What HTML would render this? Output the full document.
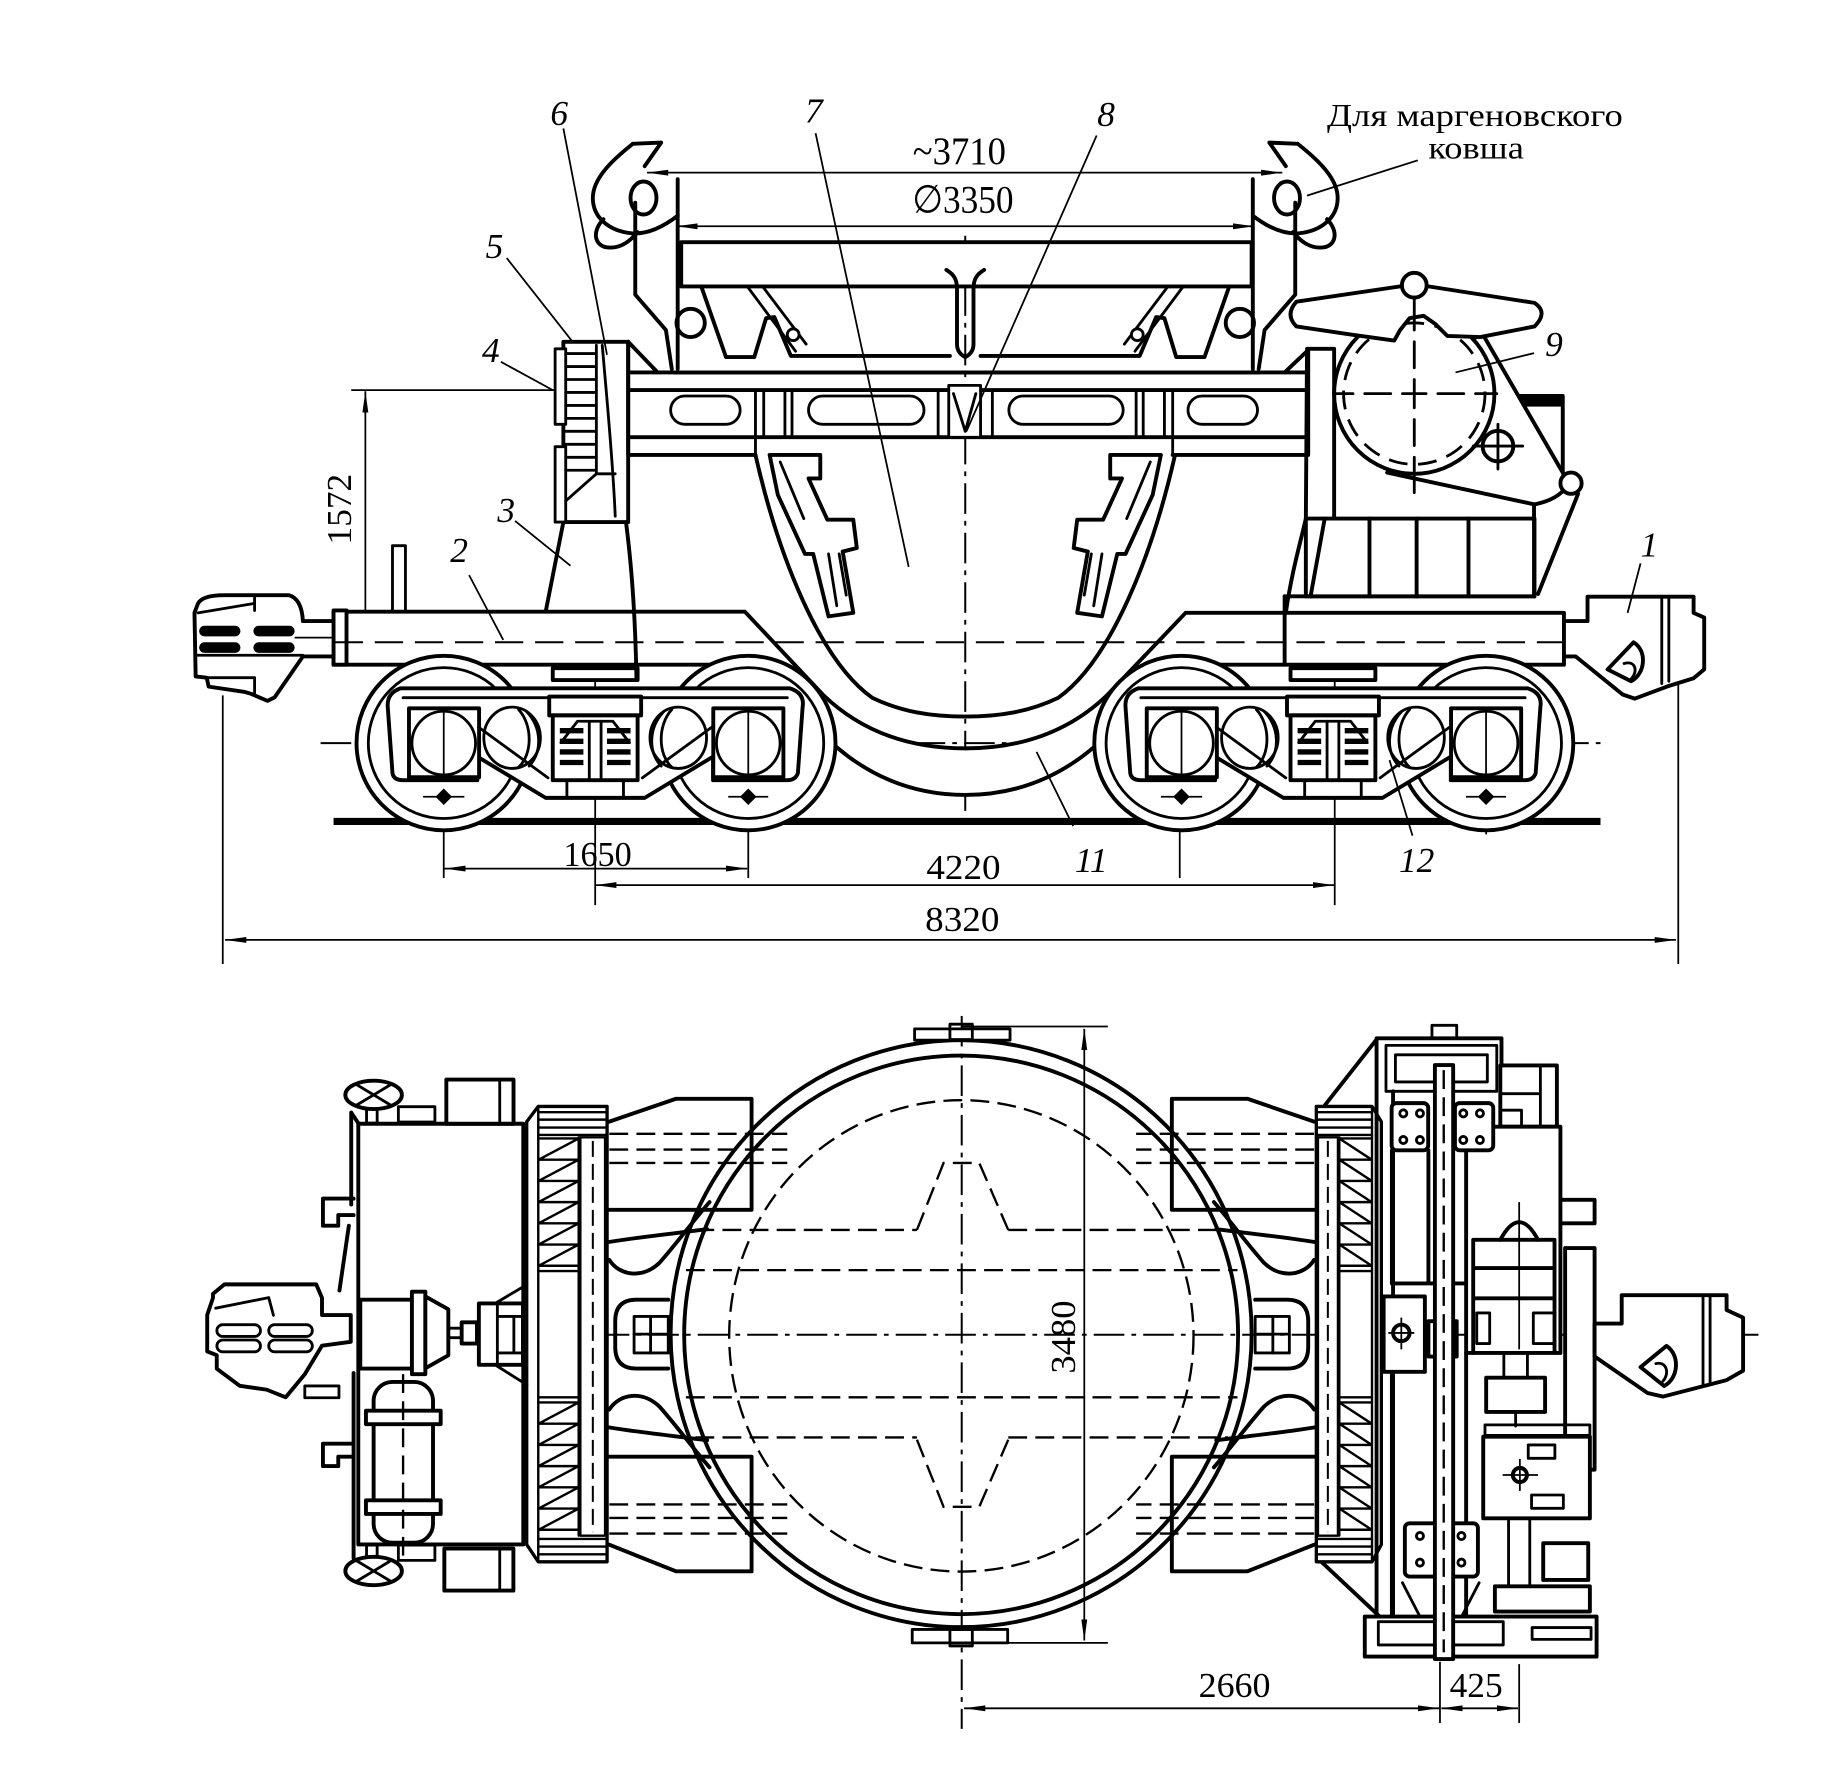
<!DOCTYPE html>
<html><head><meta charset="utf-8"><style>
html,body{margin:0;padding:0;background:#fff}
svg{display:block}
.k{fill:none;stroke:#000;stroke-width:3.3;stroke-linejoin:round;stroke-linecap:round}
.w{fill:#fff;stroke:#000;stroke-width:3.3;stroke-linejoin:round}
.wm{fill:#fff;stroke:#000;stroke-width:2.4;stroke-linejoin:round}
.m{fill:none;stroke:#000;stroke-width:2.4;stroke-linejoin:round;stroke-linecap:round}
.n{fill:none;stroke:#000;stroke-width:1.5}
.d{fill:none;stroke:#000;stroke-width:2;stroke-dasharray:16 7}
.dl{fill:none;stroke:#000;stroke-width:1.7;stroke-dasharray:26 6 4 6}
.ar{fill:none;stroke:#000;stroke-width:1.5;marker-start:url(#a);marker-end:url(#a)}
.ns *{vector-effect:non-scaling-stroke}
text{font-family:"Liberation Serif","DejaVu Serif",serif;fill:#000}
.it{font-style:italic}
</style></head><body>
<svg width="1848" height="1769" viewBox="0 0 1568 1501" xmlns="http://www.w3.org/2000/svg">
<defs>
<marker id="a" viewBox="0 0 18 6" refX="18" refY="3" markerWidth="18" markerHeight="6" orient="auto-start-reverse" markerUnits="userSpaceOnUse"><path d="M0,0.5 L18,3 L0,5.5 Z" fill="#000"/></marker>
</defs>
<rect width="1568" height="1501" fill="#fff"/>

<!-- ================= SIDE VIEW ================= -->
<line class="dl" x1="819" y1="200" x2="819" y2="702"/>
<line class="dl" x1="272" y1="630.5" x2="1362" y2="630.5"/>

<line class="ar" x1="191" y1="797.5" x2="1422" y2="797.5"/>
<line class="n" x1="189" y1="590" x2="189" y2="818"/>
<line class="n" x1="1424" y1="578" x2="1424" y2="818"/>
<line class="ar" x1="377" y1="737" x2="634" y2="737"/>
<line class="ar" x1="505" y1="751" x2="1132" y2="751"/>
<line class="n" x1="376.5" y1="560" x2="376.5" y2="745"/>
<line class="n" x1="634.9" y1="560" x2="634.9" y2="745"/>
<line class="n" x1="1001" y1="560" x2="1001" y2="745"/>
<line class="n" x1="1261" y1="560" x2="1261" y2="708"/>
<line class="n" x1="505" y1="530" x2="505" y2="768"/>
<line class="n" x1="1132.5" y1="528" x2="1132.5" y2="768"/>
<line class="ar" x1="310" y1="332" x2="310" y2="544"/>
<line class="n" x1="298" y1="331" x2="480" y2="331"/>
<line class="ar" x1="549" y1="146.5" x2="1088" y2="146.5"/>
<line class="ar" x1="574" y1="192" x2="1064" y2="192"/>

<line x1="283" y1="697" x2="1358" y2="697" stroke="#000" stroke-width="6"/>

<path class="w" d="M283,519 H632 L698.5,589.7 C730,620 770,635 819,635 C868,635 908,620 939.5,589.7 L1006,520 H1327 V564 H986 C948,625 898,674.5 819,674.5 C740,674.5 690,625 652,564 H283 Z"/>
<rect class="w" x="283" y="518" width="11" height="46"/>
<line class="dl" x1="284" y1="545" x2="1340" y2="545" style="stroke-dasharray:24 10"/>
<line class="k" x1="1090" y1="506" x2="1090" y2="564"/>
<line class="k" x1="1090" y1="506" x2="1302" y2="506"/>
<rect class="m" x="333" y="463" width="11" height="56"/>

<path class="w" d="M168,512 Q172,505 190,505 L245,505 Q256,508 257,527 L283,527 L283,557 L257,557 L233,591.7 L227,594.7 L213,588.7 L207,587 L177,582.6 L175.4,575 L166,574 L165,520 Z"/>
<path class="m" d="M168,520 L216,512 M216,505 V518 M166,556 H257 M176,575 H216 V590"/>
<rect x="169" y="531" width="35" height="9" rx="4.5"/>
<rect x="215" y="531" width="35" height="9" rx="4.5"/>
<rect x="169" y="545" width="35" height="9" rx="4.5"/>
<rect x="215" y="545" width="35" height="9" rx="4.5"/>
<line class="n" x1="250" y1="541" x2="283" y2="541"/>

<path class="w" d="M1327,527 H1347 V506.3 H1437 V520 L1446,524 V568 L1437,575.5 L1414.8,582.4 L1387,592.8 L1376.8,589.3 L1337,557 H1327 Z"/>
<path class="m" d="M1410,506 V580 M1416,506 V578"/>
<path class="k" d="M1364,568 L1386,545 C1398,552 1396,572 1384,578 Z"/>
<path class="m" d="M1378,563 C1388,560 1390,570 1384,576"/>

<g id="bogie">
<circle class="w" cx="376.5" cy="630.5" r="74"/>
<circle class="m" cx="376.5" cy="630.5" r="64"/>
<circle class="w" cx="634.9" cy="630.5" r="74"/>
<circle class="m" cx="634.9" cy="630.5" r="64"/>
<path class="w" d="M340,584 H670 Q683,588 681,600 L677,656 Q675,662 668,662 H605 V642 L547,677 H463 L405,642 V662 H342 Q334,662 333,656 L329,600 Q328,588 340,584 Z"/>
<path class="m" d="M342,592 H668"/>
<rect class="w" x="347" y="601" width="59.5" height="58.5"/>
<circle class="m" cx="376.5" cy="630.5" r="27"/>
<rect class="w" x="605.2" y="601" width="59.5" height="58.5"/>
<circle class="m" cx="634.9" cy="630.5" r="27"/>
<ellipse class="wm" cx="434.5" cy="626" rx="24" ry="26"/>
<path class="m" d="M440,602 C452,615 452,640 440,651 M447,604 C460,618 460,638 449,650"/>
<ellipse class="wm" cx="575.5" cy="626" rx="24" ry="26"/>
<path class="m" d="M570,602 C558,615 558,640 570,651 M563,604 C550,618 550,638 561,650"/>
<path class="m" d="M406,617 L465,660 M604,617 L545,660"/>
<rect class="w" x="469" y="567" width="72" height="10"/>
<rect class="w" x="466" y="591" width="78" height="16"/>
<rect class="w" x="469" y="607" width="72" height="55"/>
<path class="m" d="M476,630 L490,612 H520 L534,630"/>
<path d="M475,620 h20 M475,629 h20 M475,638 h20 M475,647 h20 M515,620 h20 M515,629 h20 M515,638 h20 M515,647 h20" stroke="#000" stroke-width="4.5"/>
<path class="m" d="M500,612 V660 M510,612 V660 M481,662 V677 M529,662 V677"/>
<path d="M369.5,676 L376.5,669 L383.5,676 L376.5,683 Z M627.9,676 L634.9,669 L641.9,676 L634.9,683 Z"/>
<path class="n" d="M359,676 H394 M617.9,676 H651.8 M376.5,600 V662 M634.9,600 V662"/>
</g>
<use href="#bogie" transform="translate(626,0)"/>

<path class="k" d="M478,443 L463,519"/>
<path class="k" d="M531,442 C536,480 539,520 540,575"/>
<rect class="w" x="478" y="290" width="55" height="153"/>
<rect class="wm" x="471" y="296" width="9" height="64"/>
<rect class="wm" x="471" y="379" width="9" height="64"/>
<path class="m" d="M480,300 H506 M480,311 H506 M480,322 H506 M480,333 H506 M480,344 H506 M480,355 H506 M480,366 H506 M480,377 H506 M480,388 H506 M480,399 H506 M506,293 V402 L480,425"/>
<path class="m" d="M511,293 C515,340 520,390 522,438 M506,402 H522"/>
<path class="k" d="M533,290 L557,315"/>

<path class="k" d="M533,316 H1110 M533,331 H1110 M533,371 H1110 M533,386 H641 M995,386 H1110 M533,290 V386 M1110,296 V386"/>
<path class="m" d="M641,331 V386 M648,331 V371 M666,331 V371 M672,331 V371 M995,331 V386 M988,331 V371 M970,331 V371 M964,331 V371"/>
<rect class="m" x="569" y="336" width="59" height="24" rx="12"/>
<rect class="m" x="686" y="336" width="98" height="24" rx="12"/>
<rect class="m" x="856" y="336" width="97" height="24" rx="12"/>
<rect class="m" x="1008" y="336" width="59" height="24" rx="12"/>
<rect class="wm" x="805" y="327" width="27" height="44"/>
<path class="m" d="M796,331 V371 M842,331 V371 M809,334 L819,366 L828,334"/>

<path class="k" d="M641,386 C660,470 695,560 740,592 C765,604 790,608 819,608 C848,608 873,604 898,592 C943,560 978,470 997,386"/>
<g id="brk">
<path class="w" d="M653,386 H696 V406 H686 L702,441 H724 L727,465 L715,468 L724,520 L703,523 L690,470 L683,470 L660,420 Z"/>
<path class="m" d="M703,470 L710,514 M712,470 L718,505 M662,392 L682,440"/>
</g>
<use href="#brk" transform="matrix(-1 0 0 1 1638 0)"/>

<rect class="w" x="578" y="205.5" width="484" height="37.5"/>
<g id="upl">
<path class="k" d="M595,243 L616,303 H640 L650,270 L657,269 L671,302 H806"/>
<path class="m" d="M634,243 L675,298 M647,243 L684,292"/>
<circle class="wm" cx="673" cy="284" r="5"/>
<circle class="k" cx="586" cy="274" r="12"/>
<path class="k" d="M803,229 C810,233 812,238 812,245 V292 C812,298 815,301 819,303"/>
</g>
<use href="#upl" transform="matrix(-1 0 0 1 1638 0)"/>
<line class="k" x1="572" y1="316" x2="1068" y2="316"/>

<g id="hook">
<path class="k" d="M537,122 L561,121 L547,141"/>
<path class="k" d="M537,122 C518,137 503,152 503,168 C503,184 516,196 536,198 C552,199 566,190 575,183"/>
<path class="k" d="M512,186 C502,196 504,209 516,210 C527,211 535,204 541,197"/>
<ellipse class="k" cx="546" cy="168" rx="11" ry="14"/>
<path class="k" d="M539,172 V250 L565,280 L570,313"/>
<path class="k" d="M575,152 V313"/>
</g>
<use href="#hook" transform="matrix(-1 0 0 1 1638 0)"/>

<path class="k" d="M1091,520 C1096,485 1104,458 1108,440 L1109,296 H1132 V440"/>
<path class="k" d="M1090,316 L1109,298"/>
<rect class="w" x="1108" y="440" width="194" height="66"/>
<path class="k" d="M1124,440 L1112,506 M1162,440 V506 M1202,440 V506 M1246,440 V506"/>
<rect class="w" x="1283" y="336" width="43" height="65"/>
<rect x="1283" y="336" width="43" height="9"/>
<path class="w" d="M1177,401 L1302,428 Q1322,424 1330,412 L1326,401 L1256,280 Z"/>
<circle class="w" cx="1200" cy="334" r="68"/>
<circle cx="1200" cy="334" r="60" fill="none" stroke="#000" stroke-width="2.4" stroke-dasharray="16 9"/>
<path class="m" d="M1132,334 H1148 M1158,334 H1180 M1190,334 H1210 M1220,334 H1242 M1252,334 H1270 M1200,262 V280 M1200,290 V312 M1200,322 V346 M1200,356 V378 M1200,388 V418"/>
<path class="w" d="M1100,256 L1188,243 L1212,243 L1302,257 Q1314,265 1302,277 L1256,286 L1228,285 L1218,275 L1208,268 L1196,270 L1188,280 L1183,289 L1147,284 L1100,277 Q1090,267 1100,256 Z"/>
<circle class="w" cx="1200" cy="242" r="10.5"/>
<line class="m" x1="1200" y1="252" x2="1200" y2="268"/>
<circle class="k" cx="1271" cy="378.5" r="13"/>
<path class="m" d="M1250,378.5 H1292 M1271,360 V398"/>
<path class="k" d="M1339,419 L1305,504 M1301.6,428 V506"/>
<circle class="w" cx="1333" cy="410" r="9"/>

<g font-size="30" class="it">
<text x="1392" y="472">1</text>
<text x="382" y="477">2</text>
<text x="422" y="443">3</text>
<text x="409" y="307">4</text>
<text x="412" y="219">5</text>
<text x="467" y="106">6</text>
<text x="683" y="104">7</text>
<text x="931" y="107">8</text>
<text x="1311" y="302">9</text>
<text x="912" y="740">11</text>
<text x="1187" y="740">12</text>
</g>
<path class="n" d="M1392,478 L1381,520 M398,488 L427,543 M437,442 L484,480 M425,307 L469,331 M430,219 L485,289 M478,109 L515,301 M692,113 L771,481 M930.5,115 L820,366 M1301.6,299.6 L1235,316 M910.6,701 L879.5,638 M1198.5,709 L1179,645 M1203,136 L1109,166"/>
<text x="1126" y="107" font-size="27" textLength="251" lengthAdjust="spacingAndGlyphs">Для маргеновского</text>
<text x="1212" y="134.5" font-size="27" textLength="81" lengthAdjust="spacingAndGlyphs">ковша</text>
<text x="774.5" y="139" font-size="33" textLength="79" lengthAdjust="spacingAndGlyphs">~3710</text>
<text x="774" y="180.5" font-size="33" textLength="86" lengthAdjust="spacingAndGlyphs">∅3350</text>
<text x="478" y="735" font-size="30" textLength="58" lengthAdjust="spacingAndGlyphs">1650</text>
<text x="786" y="746" font-size="30" textLength="63" lengthAdjust="spacingAndGlyphs">4220</text>
<text x="785" y="790" font-size="30" textLength="63" lengthAdjust="spacingAndGlyphs">8320</text>
<text transform="translate(298,432) rotate(-90)" x="-30" y="0" font-size="30" textLength="60" lengthAdjust="spacingAndGlyphs">1572</text>

<!-- ================= PLAN VIEW ================= -->
<line class="dl" x1="816" y1="862" x2="816" y2="1467"/>
<line class="dl" x1="466" y1="1132.5" x2="1492" y2="1132.5"/>

<ellipse class="k" cx="815.5" cy="1131.6" rx="246.5" ry="249"/>
<ellipse class="k" cx="815.5" cy="1132.6" rx="235" ry="237"/>
<ellipse class="d" cx="815.7" cy="1133.5" rx="197" ry="200"/>
<path class="d" d="M778,1043.6 L800.6,986.8 H830.9 L855.5,1043.6 M778,1221.6 L800.6,1278.5 H830.9 L855.5,1221.6"/>
<path class="d" d="M590,1043.6 H778 M855.5,1043.6 H1042 M582,1077.7 H1050 M582,1185.6 H1050 M590,1219.7 H778 M855.5,1219.7 H1042"/>
<rect class="wm" x="776" y="873" width="81" height="9.6"/>
<rect class="m" x="806" y="869" width="19" height="13"/>
<rect class="wm" x="774" y="1382.6" width="81" height="11.4"/>
<rect class="m" x="806" y="1382.6" width="19" height="14"/>

<line class="ar" x1="920" y1="873" x2="920" y2="1392"/>
<line class="n" x1="816" y1="871" x2="940" y2="871"/>
<line class="n" x1="846" y1="1394" x2="940" y2="1394"/>
<text transform="translate(912,1134.5) rotate(-90)" x="-31" y="0" font-size="30" textLength="62" lengthAdjust="spacingAndGlyphs">3480</text>

<g id="tr">
<path class="k" d="M516.7,951.8 L573.6,932.3 H637.7 V1026.5 H516.7"/>
<path class="k" d="M516.7,1236 H637.7 V1333.3 H573.6 L516.7,1310.6"/>
<path class="d" d="M517,962 H668 M517,975.4 H668 M517,986.8 H668 M517,1276.5 H668 M517,1288 H668 M517,1301.2 H668"/>
<path class="k" d="M567,1102.8 H540 Q522,1102.8 522,1121 V1143 Q522,1161.2 540,1161.2 H567"/>
<rect class="m" x="538" y="1117" width="29" height="31"/>
<path class="m" d="M552,1117 V1148 M538,1132 H567"/>
<path class="k" d="M492,1058 C530,1051 560,1048 600,1043"/>
<path class="k" d="M517,1069 C525,1082 545,1086 560,1071 C575,1054 588,1036 602,1020"/>
<path class="k" d="M492,1207 C530,1214 560,1217 600,1222"/>
<path class="k" d="M517,1196 C525,1183 545,1179 560,1194 C575,1211 588,1229 602,1245"/>
</g>
<use href="#tr" transform="matrix(-1 0 0 1 1632 0)"/>

<g id="ring" class="ns">
<path class="w" d="M446.9,951.8 L456.7,938.8 H515.1 V1325.2 H456.7 L446.9,1310.6 Z"/>
<path class="m" d="M456.7,938.8 V1325.2 M491,965 V1303 M456.7,1078.5 H491 M456.7,1185.6 H491"/>
<rect class="m" x="492.4" y="965" width="21" height="338"/>
<line class="d" x1="503" y1="968" x2="503" y2="1300"/>
<path class="m" d="M456.7,943.7 H515 M456.7,950 H515 M456.7,956.7 H515 M456.7,963 H515 M456.7,1305.8 H515 M456.7,1312.3 H515 M456.7,1318.8 H515"/>
<path class="m" d="M457,966 H491 L457,984 H491 L457,1002 H491 L457,1020 H491 L457,1038 H491 L457,1056 H491 L457,1074 H491"/>
<path class="m" d="M457,1190 H491 L457,1208 H491 L457,1226 H491 L457,1244 H491 L457,1262 H491 L457,1280 H491 L457,1298 H491"/>
</g>
<use href="#ring" transform="matrix(-0.809 0 0 1 1533.6 0)"/>

<rect class="w" x="304" y="953.5" width="140" height="357"/>
<path class="k" d="M298,944 V1022 M296,1040 L288,1095 M300,1165 V1322 M304,953 L298,944"/>
<path class="k" d="M300,1017 H274 V1040 H287 V1031 H300 M300,1225 H274 V1244 H287 V1236 H300"/>
<ellipse class="w" cx="317" cy="929" rx="24" ry="12"/>
<path class="m" d="M302,920 L332,938 M302,938 L332,920"/>
<ellipse class="w" cx="317" cy="1333" rx="24" ry="12"/>
<path class="m" d="M302,1324 L332,1342 M302,1342 L332,1324"/>
<rect class="m" x="311" y="941" width="9" height="12"/>
<rect class="m" x="311" y="1311" width="9" height="10"/>
<rect class="m" x="338" y="939" width="31" height="13"/>
<rect class="m" x="338" y="1311" width="31" height="13"/>
<rect class="w" x="378.7" y="916" width="57" height="37.5"/>
<line class="m" x1="424" y1="916" x2="424" y2="953"/>
<rect class="w" x="377" y="1314" width="58.6" height="35.6"/>
<line class="m" x1="424" y1="1314" x2="424" y2="1349"/>
<path class="w" d="M180.7,1097.9 L190.4,1089.8 H268.3 L273.2,1101.2 V1115.8 H297.6 V1138.5 L273.2,1141.8 L258.6,1166.1 L242.4,1185.6 L226.1,1179.1 L203.4,1175.9 L183.9,1161.3 V1149.9 L175.8,1146.7 V1115.8 L180.7,1101.2 Z"/>
<path class="m" d="M183,1110 L228,1101 L232,1116"/>
<rect class="m" x="184" y="1124" width="37" height="10" rx="5"/>
<rect class="m" x="184" y="1137" width="37" height="10" rx="5"/>
<rect class="m" x="228" y="1124" width="37" height="10" rx="5"/>
<rect class="m" x="228" y="1137" width="37" height="10" rx="5"/>
<rect class="m" x="258.6" y="1176" width="29" height="10"/>
<rect class="w" x="305.7" y="1102.8" width="43.8" height="58.4"/>
<rect class="w" x="349.5" y="1096" width="11.4" height="70"/>
<path class="w" d="M360.9,1100 L380.4,1111 V1150 L360.9,1161 Z"/>
<rect class="m" x="380.4" y="1127" width="11.6" height="8"/>
<rect class="w" x="391.7" y="1122" width="13" height="18"/>
<rect class="w" x="406.3" y="1106" width="37.4" height="52"/>
<path class="m" d="M422,1106 V1158 M436,1117 V1148 M422,1117 H444 M422,1148 H444 M420,1106 L447,1090 M420,1158 L447,1175"/>
<rect class="w" x="317" y="1172.6" width="50.4" height="136.4" rx="16"/>
<rect class="w" x="310.5" y="1197" width="63.4" height="11.4"/>
<rect class="w" x="310.5" y="1273" width="63.4" height="11.6"/>
<line class="d" x1="342" y1="1166" x2="342" y2="1320"/>

<path class="k" d="M1124,938 L1168,882 M1122,1326 L1171,1372"/>
<path class="k" d="M1168,881 V1372 M1182,926 V1372 M1168,881 H1274 V956"/>
<rect class="m" x="1215" y="870" width="21" height="11"/>
<rect class="m" x="1176" y="887" width="94" height="39"/>
<rect class="m" x="1184" y="895" width="78" height="23"/>
<path class="k" d="M1181,976 V1089 H1244 M1212,976 V1089"/>
<rect class="w" x="1273" y="904" width="48" height="52"/>
<path class="m" d="M1307,904 V956 M1273,928 H1307 M1273,942 H1291 V955"/>
<rect class="w" x="1244" y="956" width="80" height="192"/>
<path class="k" d="M1273,1052 Q1289,1022 1305,1052"/>
<line class="n" x1="1289" y1="1020" x2="1289" y2="1145"/>
<path class="k" d="M1250,1052 H1319 M1250,1076 H1319 M1250,1101.6 H1319 M1250,1052 V1148 M1319,1052 V1148"/>
<rect class="m" x="1253" y="1114" width="11" height="26"/>
<rect class="m" x="1301" y="1114" width="18" height="26"/>
<rect class="w" x="1328" y="1059" width="25" height="188"/>
<path class="k" d="M1324,1018 H1353 V1038 H1324"/>
<rect class="w" x="1174" y="1100" width="35" height="64"/>
<circle class="k" cx="1189" cy="1131" r="7"/>
<path class="n" d="M1178,1131 H1200 M1189,1118 V1145"/>
<rect class="w" x="1212" y="1121" width="24" height="30"/>
<rect class="m" x="1218" y="1126" width="12" height="20"/>
<rect class="w" x="1261" y="1169" width="50" height="29"/>
<path class="m" d="M1276,1148 V1169 M1296,1148 V1169 M1286,1198 V1210"/>
<rect class="m" x="1260" y="1209" width="89" height="9"/>
<rect class="w" x="1258.5" y="1219" width="90.5" height="69.3"/>
<rect class="m" x="1296.7" y="1226" width="22.6" height="11.4"/>
<circle class="k" cx="1289.6" cy="1251.5" r="6"/>
<path class="n" d="M1275,1251.5 H1305 M1289.6,1238 V1265"/>
<rect class="m" x="1299.5" y="1268.5" width="27" height="11.3"/>
<path class="m" d="M1280,1288 V1346 M1298,1288 V1346"/>
<rect class="w" x="1309.4" y="1309.4" width="38.2" height="31.2"/>
<rect class="w" x="1268.4" y="1346" width="80.6" height="21.4"/>
<path class="k" d="M1181,1164 V1372 M1244,1148 V1372"/>
<rect class="w" x="1192" y="1292.5" width="62" height="45.2" rx="4"/>
<circle class="m" cx="1204.8" cy="1303.3" r="3"/>
<circle class="m" cx="1204.8" cy="1325.9" r="3"/>
<circle class="m" cx="1240" cy="1303.3" r="3"/>
<circle class="m" cx="1240" cy="1325.9" r="3"/>
<path class="m" d="M1190,1343 L1205,1372 M1255,1343 L1240,1372"/>
<rect class="w" x="1158" y="1371.7" width="196.7" height="33.9"/>
<rect class="m" x="1169.5" y="1376" width="106" height="19.7"/>
<rect class="m" x="1300" y="1381" width="50" height="10"/>
<rect class="w" x="1217.5" y="903.7" width="15.5" height="504"/>
<line class="d" x1="1225" y1="908" x2="1225" y2="1402"/>
<rect class="w" x="1180.8" y="936" width="31" height="40" rx="4"/>
<rect class="w" x="1234.5" y="936" width="32.5" height="40" rx="4"/>
<circle class="m" cx="1190.7" cy="944.7" r="3"/>
<circle class="m" cx="1204.8" cy="944.7" r="3"/>
<circle class="m" cx="1190.7" cy="967.3" r="3"/>
<circle class="m" cx="1204.8" cy="967.3" r="3"/>
<circle class="m" cx="1241.6" cy="944.7" r="3"/>
<circle class="m" cx="1255.7" cy="944.7" r="3"/>
<circle class="m" cx="1241.6" cy="967.3" r="3"/>
<circle class="m" cx="1255.7" cy="967.3" r="3"/>
<path class="w" d="M1353,1123 H1376 V1099 H1465 V1111.5 L1479,1118 V1163 L1465,1171 L1411,1185 L1398,1182 L1353,1151 Z"/>
<path class="m" d="M1445,1099 V1175 M1451,1099 V1173"/>
<path class="k" d="M1392,1160 L1414,1142 C1426,1150 1424,1170 1412,1176 Z"/>
<path class="m" d="M1405,1157 C1414,1155 1417,1165 1411,1172"/>

<line class="ar" x1="818" y1="1449.5" x2="1221" y2="1449.5"/>
<line class="ar" x1="1223" y1="1449.5" x2="1288" y2="1449.5"/>
<line class="n" x1="1221.8" y1="1410" x2="1221.8" y2="1462"/>
<line class="n" x1="1289" y1="1412" x2="1289" y2="1462"/>
<text x="1017" y="1440" font-size="30" textLength="61" lengthAdjust="spacingAndGlyphs">2660</text>
<text x="1230" y="1440" font-size="30" textLength="45" lengthAdjust="spacingAndGlyphs">425</text>
</svg>
</body></html>
